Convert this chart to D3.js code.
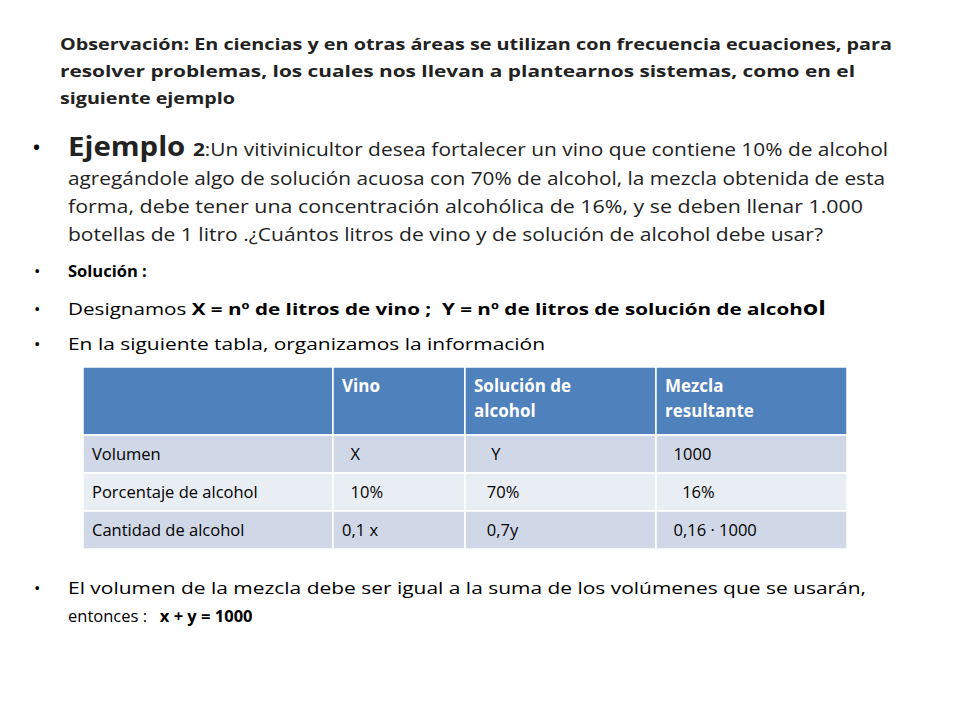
<!DOCTYPE html>
<html><head><meta charset="utf-8">
<script src="https://cdn.jsdelivr.net/npm/d3@7"></script>
<style>body{margin:0;background:#fff}svg{font-family:"Open Sans",sans-serif}</style>
</head><body>
<script>
var titleLines = [
	'Observación: En ciencias y en otras áreas se utilizan con frecuencia ecuaciones, para',
	'resolver problemas, los cuales nos llevan a plantearnos sistemas, como en el',
	'siguiente ejemplo'
];
var titleWidths = [ 832, 795, 175 ];
var exampleLines = [
	'agregándole algo de solución acuosa con 70% de alcohol, la mezcla obtenida de esta',
	'forma, debe tener una concentración alcohólica de 16%, y se deben llenar 1.000',
	'botellas de 1 litro .¿Cuántos litros de vino y de solución de alcohol debe usar?'
];
var exampleWidths = [ 817, 795, 755 ];
var headers = [ '', 'Vino', 'Solución de|alcohol', 'Mezcla|resultante' ];
var rowLabels = [ 'Volumen', 'Porcentaje de alcohol', 'Cantidad de alcohol' ];
var cells = [
	[ '  X', '    Y', '  1000' ],
	[ '  10%', '   70%', '    16%' ],
	[ '0,1 x', '   0,7y', '  0,16 · 1000' ]
];

var svg = d3.select( 'body' ).append( 'svg' ).attr( 'width', 960 ).attr( 'height', 720 );

svg.selectAll( 'text.title' ).data( titleLines ).enter().append( 'text' )
	.attr( 'x', 60 ).attr( 'y', function ( d, i ) { return 50 + i * 27; } )
	.attr( 'font-size', 16.5 ).attr( 'font-weight', 'bold' ).attr( 'fill', '#222' )
	.attr( 'textLength', function ( d, i ) { return titleWidths[i]; } ).attr( 'lengthAdjust', 'spacingAndGlyphs' )
	.text( function ( d ) { return d; } );

var bullet = function ( x, y, size ) {
	svg.append( 'text' ).attr( 'x', x ).attr( 'y', y ).attr( 'font-size', size ).text( '•' );
};

bullet( 32, 156, 24 );
var ej = svg.append( 'text' ).attr( 'x', 68 ).attr( 'y', 156 ).attr( 'font-size', 18.5 ).attr( 'fill', '#222' )
	.attr( 'textLength', 820 ).attr( 'lengthAdjust', 'spacingAndGlyphs' );
ej.append( 'tspan' ).attr( 'font-size', 26 ).attr( 'font-weight', 'bold' ).text( 'Ejemplo ' );
ej.append( 'tspan' ).attr( 'font-weight', 'bold' ).text( '2' );
ej.append( 'tspan' ).text( ':Un vitivinicultor desea fortalecer un vino que contiene 10% de alcohol' );
svg.selectAll( 'text.ex' ).data( exampleLines ).enter().append( 'text' )
	.attr( 'x', 68 ).attr( 'y', function ( d, i ) { return 185 + i * 28; } )
	.attr( 'font-size', 18.5 ).attr( 'fill', '#222' )
	.attr( 'textLength', function ( d, i ) { return exampleWidths[i]; } ).attr( 'lengthAdjust', 'spacingAndGlyphs' )
	.text( function ( d ) { return d; } );

bullet( 34, 277, 17 );
svg.append( 'text' ).attr( 'x', 68 ).attr( 'y', 277 ).attr( 'font-size', 16.5 ).attr( 'font-weight', 'bold' ).text( 'Solución :' );

bullet( 34, 315, 17 );
var ds = svg.append( 'text' ).attr( 'x', 68 ).attr( 'y', 315 ).attr( 'font-size', 16.5 ).style( 'white-space', 'pre' )
	.attr( 'textLength', 758 ).attr( 'lengthAdjust', 'spacingAndGlyphs' );
ds.append( 'tspan' ).text( 'Designamos ' );
ds.append( 'tspan' ).attr( 'font-weight', 'bold' ).text( 'X = nº de litros de vino ;  Y = nº de litros de solución de alcoh' );
ds.append( 'tspan' ).attr( 'font-weight', 'bold' ).attr( 'font-size', 20 ).text( 'ol' );

bullet( 34, 350, 17 );
svg.append( 'text' ).attr( 'x', 68 ).attr( 'y', 350 ).attr( 'font-size', 16.5 )
	.attr( 'textLength', 477 ).attr( 'lengthAdjust', 'spacingAndGlyphs' )
	.text( 'En la siguiente tabla, organizamos la información' );

// table
var colX = [ 83, 333, 465, 656, 847 ];
var rowY = d3.scaleLinear().domain( [ 0, 1 ] ).range( [ 435, 473 ] );
var g = svg.append( 'g' );
headers.forEach( function ( h, c ) {
	g.append( 'rect' ).attr( 'x', colX[c] ).attr( 'y', 367 ).attr( 'width', colX[c + 1] - colX[c] ).attr( 'height', 68 )
		.attr( 'fill', '#4f81bd' ).attr( 'stroke', '#fff' ).attr( 'stroke-width', 1.5 );
	h.split( '|' ).forEach( function ( t, k ) {
		g.append( 'text' ).attr( 'x', colX[c] + 9 ).attr( 'y', 392 + k * 25 ).attr( 'font-size', 17 )
			.attr( 'font-weight', 'bold' ).attr( 'fill', '#fff' ).text( t );
	} );
} );
rowLabels.forEach( function ( r, i ) {
	var vals = [ r ].concat( cells[i] );
	vals.forEach( function ( v, c ) {
		g.append( 'rect' ).attr( 'x', colX[c] ).attr( 'y', rowY( i ) ).attr( 'width', colX[c + 1] - colX[c] ).attr( 'height', 38 )
			.attr( 'fill', i % 2 === 0 ? '#d0d8e8' : '#e9edf4' ).attr( 'stroke', '#fff' ).attr( 'stroke-width', 1.5 );
		g.append( 'text' ).attr( 'x', colX[c] + 9 ).attr( 'y', rowY( i ) + 25 ).attr( 'font-size', 16.5 )
			.style( 'white-space', 'pre' ).text( v );
	} );
} );

bullet( 34, 594, 17 );
svg.append( 'text' ).attr( 'x', 68 ).attr( 'y', 594 ).attr( 'font-size', 16.5 )
	.attr( 'textLength', 798 ).attr( 'lengthAdjust', 'spacingAndGlyphs' )
	.text( 'El volumen de la mezcla debe ser igual a la suma de los volúmenes que se usarán,' );
var en = svg.append( 'text' ).attr( 'x', 68 ).attr( 'y', 622 ).attr( 'font-size', 16.5 ).style( 'white-space', 'pre' );
en.append( 'tspan' ).text( 'entonces :   ' );
en.append( 'tspan' ).attr( 'font-weight', 'bold' ).text( 'x + y = 1000' );
</script>
</body></html>
